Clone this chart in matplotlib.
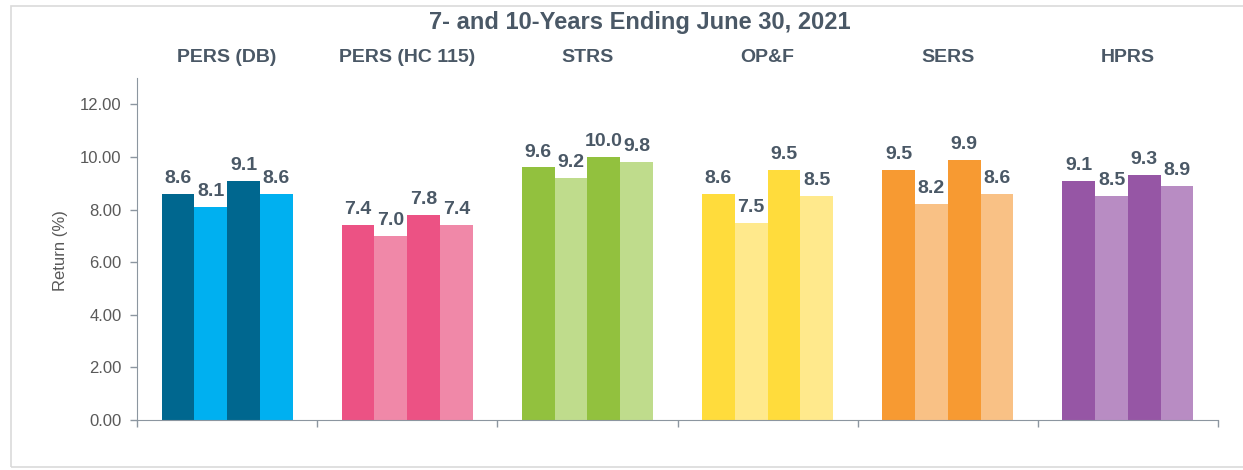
import numpy as np
import matplotlib
matplotlib.use('Agg')
import matplotlib.pyplot as plt
from matplotlib.patches import Rectangle
from matplotlib.transforms import blended_transform_factory

plt.rcParams['font.family'] = ['Liberation Sans', 'DejaVu Sans']

# 7- and 10-year returns per system (four bars each)
systems = ['PERS (DB)', 'PERS (HC 115)', 'STRS', 'OP&F', 'SERS', 'HPRS']
returns = [
    [8.6, 8.1, 9.1, 8.6],
    [7.4, 7.0, 7.8, 7.4],
    [9.6, 9.2, 10.0, 9.8],
    [8.6, 7.5, 9.5, 8.5],
    [9.5, 8.2, 9.9, 8.6],
    [9.1, 8.5, 9.3, 8.9],
]
dark_colors = ['#00678F', '#EC5284', '#92C13E', '#FFDC3C', '#F79A32', '#9656A5']
light_colors = ['#00B0F0', '#F088A8', '#BFDC8C', '#FFE98C', '#F9C185', '#B88CC3']

text_col = '#4A5866'
axis_col = '#8C96A0'

fig = plt.figure(figsize=(12.43, 4.70), dpi=100)
ax = fig.add_axes([137 / 1243, 50 / 470, 1081 / 1243, 342 / 470])

# light frame round the chart
fig.patches.append(Rectangle((11 / 1243, 3 / 470), 1.1, 461 / 470, transform=fig.transFigure,
                             fill=False, edgecolor='#DADADA', lw=1.2, zorder=0))

bar_w = 1 / 5.5
for g, vals in enumerate(returns):
    for i, v in enumerate(vals):
        x = g + 0.5 + (i - 1.5) * bar_w
        c = dark_colors[g] if i % 2 == 0 else light_colors[g]
        ax.bar(x, v, width=bar_w, color=c, edgecolor='none')
        ax.annotate(f'{v:.1f}', (x, v), xytext=(0, 5), textcoords='offset points',
                    ha='center', va='bottom', fontsize=14, fontweight='bold', color=text_col)

ax.set_xlim(0, 6)
ax.set_ylim(0, 13)
ax.set_xticks(np.arange(7))
ax.set_xticklabels([])
ax.set_yticks(np.arange(0, 13, 2))
ax.set_yticklabels([f'{t:.2f}' for t in np.arange(0, 13, 2)], fontsize=12, color='#595959')
ax.tick_params(axis='both', direction='out', length=5, color=axis_col, width=1)
ax.tick_params(axis='y', pad=6)
for s in ['top', 'right']:
    ax.spines[s].set_visible(False)
for s in ['left', 'bottom']:
    ax.spines[s].set_color(axis_col)
ax.set_ylabel('Return (%)', fontsize=12, color='#595959')
ax.yaxis.set_label_coords(-0.064, 0.494)

trans = blended_transform_factory(ax.transData, fig.transFigure)
for g, name in enumerate(systems):
    ax.text(g + 0.5, 1 - 58 / 470, name, transform=trans, ha='center', va='center',
            fontsize=14, fontweight='bold', color=text_col)

fig.text(640 / 1243, 1 - 22 / 470, '7- and 10-Years Ending June 30, 2021', ha='center', va='center',
         fontsize=17, fontweight='bold', color=text_col)

fig.savefig('out.png', dpi=100)
